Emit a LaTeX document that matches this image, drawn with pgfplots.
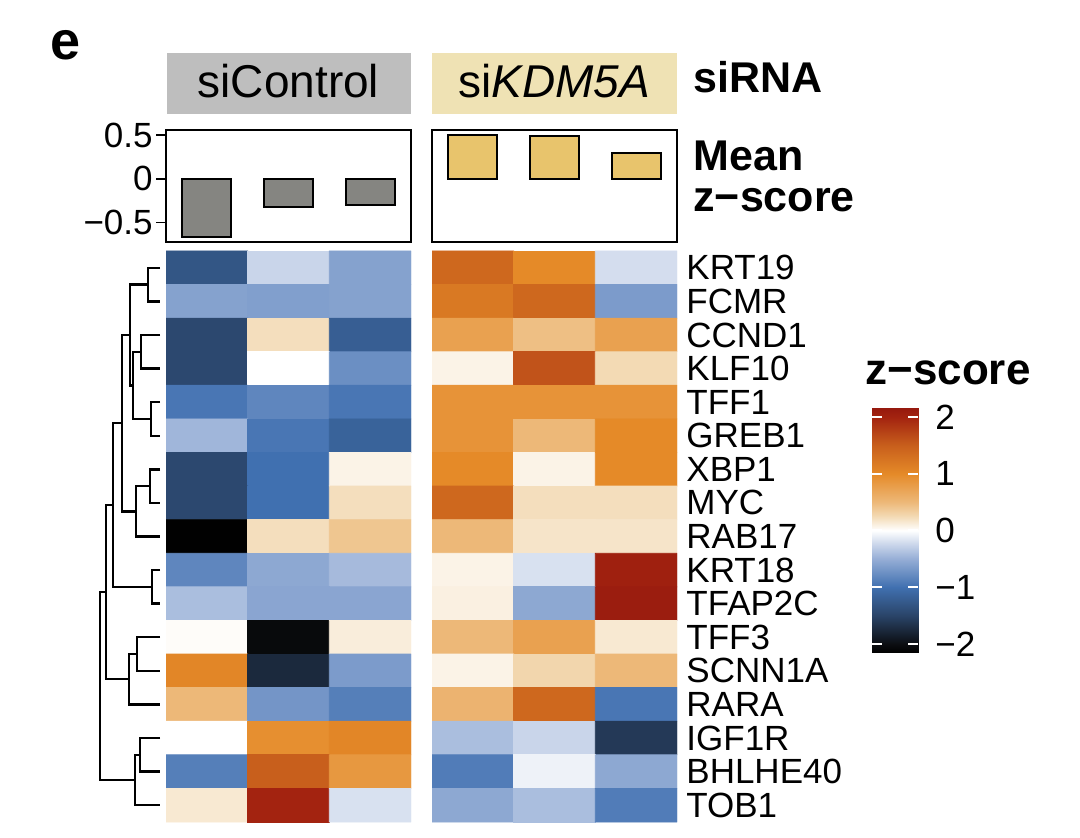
\documentclass[border=0pt]{standalone}
\usepackage{fontspec}
\setmainfont{Liberation Sans}
\usepackage{pgfplots}
\usepackage{pgfplotstable}
\pgfplotsset{compat=1.18}
\definecolor{hdrgray}{RGB}{190,190,190}
\definecolor{hdryel}{RGB}{239,226,180}
\definecolor{bargray}{RGB}{133,133,129}
\definecolor{bargold}{RGB}{232,196,108}
\pgfplotsset{colormap={zs}{
 rgb255(0pt)=(0,0,0); rgb255(16pt)=(12,14,18); rgb255(66pt)=(42,68,104);
 rgb255(116pt)=(64,112,176); rgb255(166pt)=(150,174,214); rgb255(191pt)=(201,213,234);
 rgb255(216pt)=(255,255,255); rgb255(241pt)=(243,218,180); rgb255(266pt)=(237,184,120);
 rgb255(316pt)=(229,138,40); rgb255(366pt)=(200,95,28); rgb255(416pt)=(163,35,16);
 rgb255(432pt)=(150,25,14)}}
\pgfplotstableread{
x y z
0 0 -1.30
1 0 -0.25
2 0 -0.60
0 1 -0.60
1 1 -0.62
2 1 -0.60
0 2 -1.45
1 2 0.22
2 2 -1.20
0 3 -1.45
1 3 0.00
2 3 -0.75
0 4 -0.95
1 4 -0.82
2 4 -0.95
0 5 -0.45
1 5 -0.95
2 5 -1.15
0 6 -1.45
1 6 -1.00
2 6 0.08
0 7 -1.45
1 7 -1.00
2 7 0.22
0 8 -2.15
1 8 0.22
2 8 0.40
0 9 -0.82
1 9 -0.55
2 9 -0.42
0 10 -0.40
1 10 -0.57
2 10 -0.57
0 11 0.02
1 11 -2.05
2 11 0.12
0 12 1.05
1 12 -1.75
2 12 -0.65
0 13 0.50
1 13 -0.70
2 13 -0.88
0 14 0.00
1 14 0.95
2 14 1.05
0 15 -0.88
1 15 1.50
2 15 0.85
0 16 0.15
1 16 2.00
2 16 -0.18
}\ctrl
\pgfplotstableread{
x y z
0 0 1.40
1 0 1.00
2 0 -0.20
0 1 1.20
1 1 1.40
2 1 -0.65
0 2 0.75
1 2 0.45
2 2 0.75
0 3 0.08
1 3 1.60
2 3 0.25
0 4 0.90
1 4 0.90
2 4 0.90
0 5 0.90
1 5 0.50
2 5 1.00
0 6 1.00
1 6 0.08
2 6 1.00
0 7 1.40
1 7 0.22
2 7 0.22
0 8 0.50
1 8 0.18
2 8 0.18
0 9 0.08
1 9 -0.18
2 9 2.05
0 10 0.10
1 10 -0.55
2 10 2.10
0 11 0.50
1 11 0.75
2 11 0.15
0 12 0.08
1 12 0.28
2 12 0.50
0 13 0.55
1 13 1.40
2 13 -0.95
0 14 -0.40
1 14 -0.25
2 14 -1.60
0 15 -0.90
1 15 -0.08
2 15 -0.55
0 16 -0.55
1 16 -0.40
2 16 -0.90
}\kdm
\pgfplotstableread{
x y
0 -2.16
1 -2.16
0 2.16
1 2.16
}\cbar
\begin{document}
\begin{tikzpicture}
\path[use as bounding box] (0,0) rectangle (540pt,419pt);
% panel letter and headers
\node[anchor=base west, inner sep=0pt, font=\bfseries\fontsize{27}{30}\selectfont] at (25pt,389pt) {e};
\fill[hdrgray] (83.3pt,362pt) rectangle (205.5pt,392.6pt);
\fill[hdryel] (216pt,362pt) rectangle (338.5pt,392.6pt);
\node[anchor=base, inner sep=0pt, font=\fontsize{23}{27}\selectfont] at (144.2pt,370pt) {siControl};
\node[anchor=base, inner sep=0pt, font=\fontsize{23}{27}\selectfont] at (277.2pt,370pt) {si\textit{KDM5A}};
\node[anchor=base west, inner sep=0pt, font=\bfseries\fontsize{21.5}{24}\selectfont] at (346.5pt,372.5pt) {siRNA};
\node[anchor=base west, inner sep=0pt, font=\bfseries\fontsize{21.5}{24}\selectfont] at (346.5pt,333.5pt) {Mean};
\node[anchor=base west, inner sep=0pt, font=\bfseries\fontsize{21.5}{24}\selectfont] at (346.5pt,313pt) {z−score};
\node[anchor=base west, inner sep=0pt, font=\bfseries\fontsize{22}{26}\selectfont] at (432.5pt,226.5pt) {z−score};
% mean z-score bars
\begin{axis}[at={(83pt,298pt)}, anchor=south west, scale only axis, width=122.5pt, height=56pt,
  xmin=-0.5, xmax=2.5, ymin=-0.723, ymax=0.557, xtick=\empty,
  ytick={-0.5,0,0.5}, yticklabels={−0.5,0,0.5}, ytick pos=left, tick align=outside,
  major tick length=5pt, axis line style={line width=1pt}, tick style={line width=0.8pt, black},
  yticklabel style={font=\fontsize{17.5}{19}\selectfont, inner sep=1.5pt}]
\addplot[ybar, bar width=0.6, fill=bargray, draw=black, line width=0.9pt] coordinates {(0,-0.663) (1,-0.322) (2,-0.300)};
\end{axis}
\begin{axis}[at={(216pt,298pt)}, anchor=south west, scale only axis, width=122.5pt, height=56pt,
  xmin=-0.5, xmax=2.5, ymin=-0.723, ymax=0.557, xtick=\empty, ytick=\empty,
  axis line style={line width=1pt}]
\addplot[ybar, bar width=0.6, fill=bargold, draw=black, line width=0.9pt] coordinates {(0,0.496) (1,0.485) (2,0.290)};
\end{axis}
% heatmaps
\begin{axis}[at={(83pt,8pt)}, anchor=south west, scale only axis, width=122.5pt, height=285.5pt,
  xmin=-0.5, xmax=2.5, ymin=-0.5, ymax=16.5, y dir=reverse, hide axis,
  colormap name=zs, point meta min=-2.16, point meta max=2.16]
\addplot[matrix plot*, mesh/cols=3, point meta=explicit] table[x=x, y=y, meta=z] {\ctrl};
\end{axis}
\begin{axis}[at={(216pt,8pt)}, anchor=south west, scale only axis, width=122.5pt, height=285.5pt,
  xmin=-0.5, xmax=2.5, ymin=-0.5, ymax=16.5, y dir=reverse, axis line style={draw=none},
  xtick=\empty, ytick={0,...,16}, major tick length=0pt, yticklabel pos=right,
  yticklabels={KRT19,FCMR,CCND1,KLF10,TFF1,GREB1,XBP1,MYC,RAB17,KRT18,TFAP2C,TFF3,SCNN1A,RARA,IGF1R,BHLHE40,TOB1},
  yticklabel style={font=\fontsize{17.5}{19}\selectfont, inner sep=0pt, anchor=west, xshift=4.5pt},
  colormap name=zs, point meta min=-2.16, point meta max=2.16]
\addplot[matrix plot*, mesh/cols=3, point meta=explicit] table[x=x, y=y, meta=z] {\kdm};
\end{axis}
% dendrogram (x in pixel units of the reference, y in row units)
\begin{axis}[at={(45pt,8pt)}, anchor=south west, scale only axis, width=38pt, height=285.5pt,
  xmin=90, xmax=166, ymin=-0.5, ymax=16.5, y dir=reverse, hide axis, clip=false]
\tikzset{dl/.style={black, solid, mark=none, line width=1.2pt, line join=miter}}
\addplot[dl] coordinates {(160,0) (148,0) (148,1) (160,1)};
\addplot[dl] coordinates {(160,2) (141,2) (141,3) (160,3)};
\addplot[dl] coordinates {(160,4) (151,4) (151,5) (160,5)};
\addplot[dl] coordinates {(141,2.5) (133,2.5) (133,4.5) (151,4.5)};
\addplot[dl] coordinates {(148,0.5) (130,0.5) (130,3.5) (133,3.5)};
\addplot[dl] coordinates {(160,6) (150,6) (150,7) (160,7)};
\addplot[dl] coordinates {(150,6.5) (136,6.5) (136,8) (160,8)};
\addplot[dl] coordinates {(130,2) (122,2) (122,7.25) (136,7.25)};
\addplot[dl] coordinates {(160,9) (152,9) (152,10) (160,10)};
\addplot[dl] coordinates {(122,4.625) (113,4.625) (113,9.5) (152,9.5)};
\addplot[dl] coordinates {(160,11) (137,11) (137,12) (160,12)};
\addplot[dl] coordinates {(137,11.5) (129,11.5) (129,13) (160,13)};
\addplot[dl] coordinates {(113,7.0625) (106,7.0625) (106,12.25) (129,12.25)};
\addplot[dl] coordinates {(160,14) (140,14) (140,15) (160,15)};
\addplot[dl] coordinates {(140,14.5) (135,14.5) (135,16) (160,16)};
\addplot[dl] coordinates {(106,9.656) (100,9.656) (100,15.25) (135,15.25)};
\end{axis}
% colour scale
\begin{axis}[at={(436pt,92.5pt)}, anchor=south west, scale only axis, width=23pt, height=122.5pt,
  xmin=0, xmax=1, ymin=-2.16, ymax=2.16, colormap name=zs, point meta min=-2.16, point meta max=2.16,
  xtick=\empty, ytick={-2,-1,0,1,2}, yticklabels={−2,−1,0,1,2}, ytick pos=both, yticklabel pos=right,
  tick align=inside, major tick length=5pt, tick style={white, line width=1pt},
  axis line style={draw=none}, axis on top,
  yticklabel style={font=\fontsize{17.5}{19}\selectfont, inner sep=0pt, anchor=west, xshift=8.5pt}]
\addplot[surf, shader=interp, mesh/rows=2, point meta=y] table[x=x, y=y] {\cbar};
\end{axis}
\end{tikzpicture}
\end{document}
